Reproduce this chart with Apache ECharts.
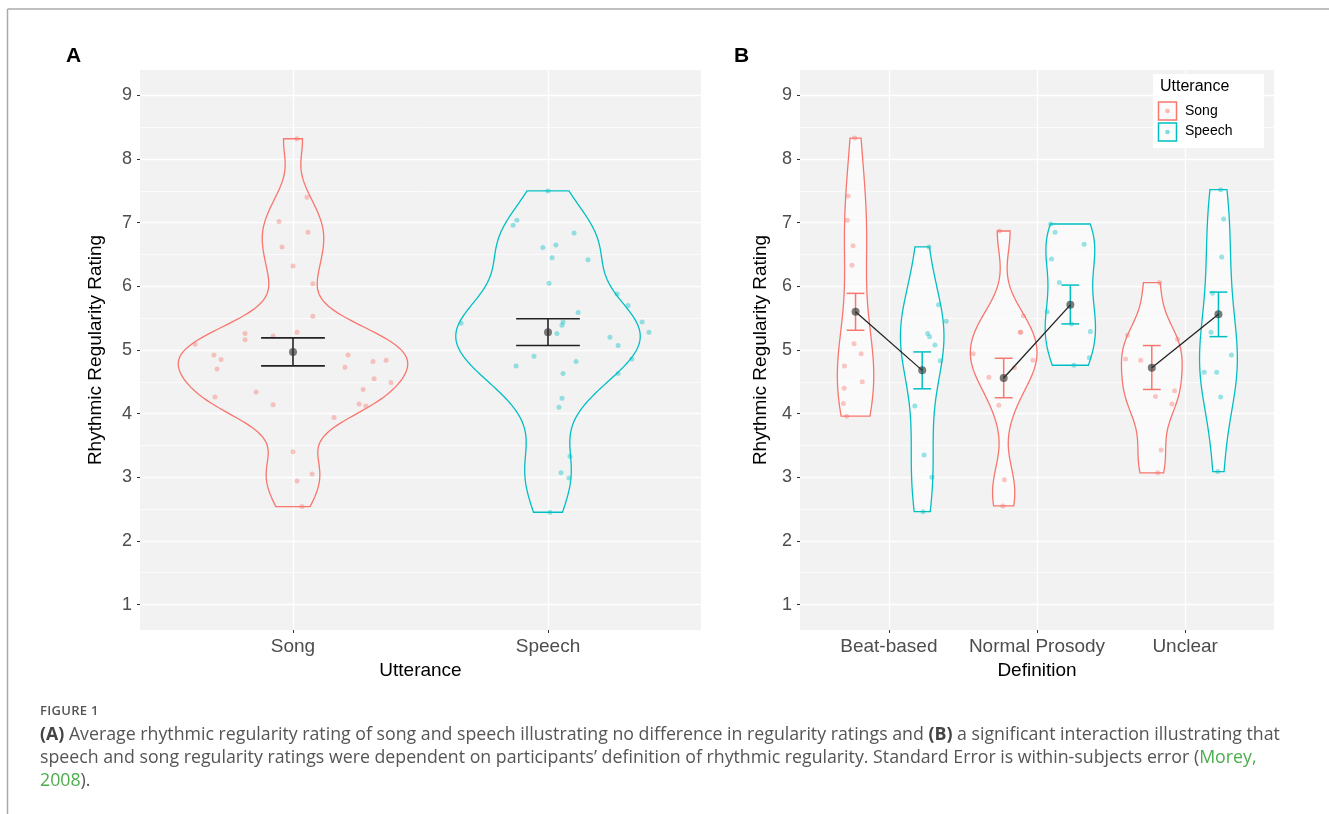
<!DOCTYPE html>
<html>
<head>
<meta charset="utf-8">
<script src="https://cdn.jsdelivr.net/npm/echarts@6/dist/echarts.min.js"></script>
<style>
  body { margin: 0; background: #fff; }
  #main { position: absolute; left: 0; top: 0; width: 1329px; height: 814px; }
  #cap { position: absolute; left: 40px; top: 701px; font-family: 'Open Sans', sans-serif; color: #555; }
  #cap .fig { font-size: 13px; font-weight: 600; line-height: 18px; letter-spacing: 0.3px; margin-bottom: 3px; }
  #cap .txt { font-size: 16px; line-height: 23px; white-space: nowrap; }
  #cap b { color: #444; }
  #cap .ref { color: #4cae4c; }
</style>
</head>
<body>
<div id="main"></div>
<div id="cap">
  <div class="fig">FIGURE 1</div>
  <div class="txt">
    <span id="line1"><b>(A)</b> Average rhythmic regularity rating of song and speech illustrating no difference in regularity ratings and <b>(B)</b> a significant interaction illustrating that</span><br>
    <span>speech and song regularity ratings were dependent on participants’ definition of rhythmic regularity. Standard Error is within-subjects error (<span class="ref">Morey,</span></span><br>
    <span><span class="ref">2008</span>).</span>
  </div>
</div>
<script>
// categories and ticks
var utterances = ['Song', 'Speech'];
var definitions = ['Beat-based', 'Normal Prosody', 'Unclear'];
var yTicks = [1, 2, 3, 4, 5, 6, 7, 8, 9];
var yMinor = [1.5, 2.5, 3.5, 4.5, 5.5, 6.5, 7.5, 8.5];

// panel A: ratings per participant, with the horizontal jitter
var songA = [8.32, 7.40, 7.02, 6.85, 6.62, 6.32, 6.04, 5.53, 5.26, 5.22, 5.28, 5.16, 5.09, 4.92, 4.85, 4.70, 4.92, 4.82, 4.84, 4.73, 4.55, 4.49, 4.38, 4.34, 4.26, 4.14, 4.15, 4.12, 3.94, 3.40, 3.05, 2.94, 2.54];
var songJitA = [0.015, 0.055, -0.055, 0.059, -0.043, 0, 0.078, 0.078, -0.188, -0.078, 0.016, -0.188, -0.384, -0.31, -0.282, -0.298, 0.216, 0.314, 0.365, 0.204, 0.318, 0.384, 0.275, -0.145, -0.306, -0.078, 0.259, 0.286, 0.161, 0, 0.075, 0.016, 0.035];
var speechA = [7.50, 7.04, 6.96, 6.84, 6.61, 6.65, 6.45, 6.42, 6.05, 5.88, 5.70, 5.59, 5.44, 5.42, 5.44, 5.39, 5.28, 5.26, 5.20, 5.07, 4.90, 4.86, 4.75, 4.82, 4.63, 4.63, 4.24, 4.10, 3.33, 3.07, 2.99, 2.45];
var speechJitA = [0, -0.122, -0.137, 0.102, -0.02, 0.031, 0.016, 0.157, 0.004, 0.271, 0.314, 0.118, 0.369, -0.341, 0.059, 0.055, 0.396, 0.035, 0.243, 0.275, -0.055, 0.329, -0.125, 0.11, 0.059, 0.275, 0.055, 0.043, 0.086, 0.051, 0.082, 0.008];
var meanA = [4.97, 5.28];
var loA = [4.75, 5.07];
var hiA = [5.19, 5.49];

// panel B: one list per definition
var songB = [
  [8.33, 7.42, 7.04, 6.64, 6.33, 5.10, 4.94, 4.75, 4.50, 4.40, 4.16, 3.96],
  [6.87, 5.54, 5.28, 5.28, 4.94, 4.84, 4.72, 4.57, 4.13, 2.96, 2.55],
  [6.06, 5.23, 5.17, 4.86, 4.84, 4.36, 4.27, 4.15, 3.43, 3.07]
];
var songJitB = [
  [-0.006, -0.05, -0.055, -0.017, -0.024, -0.01, 0.038, -0.075, 0.045, -0.077, -0.082, -0.06],
  [-0.028, 0.133, 0.112, 0.115, -0.206, 0.198, 0.072, -0.1, -0.033, 0.005, -0.006],
  [0.052, -0.164, 0.174, -0.177, -0.075, 0.154, 0.025, 0.136, 0.063, 0.04]
];
var speechB = [
  [6.62, 5.71, 5.45, 5.26, 5.21, 5.08, 4.83, 4.12, 3.35, 3.00, 2.46],
  [6.98, 6.85, 6.66, 6.43, 6.06, 5.60, 5.41, 5.29, 4.88, 4.76],
  [7.52, 7.06, 6.46, 5.89, 5.28, 4.92, 4.65, 4.65, 4.26, 3.09]
];
var speechJitB = [
  [0.046, 0.11, 0.162, 0.037, 0.05, 0.086, 0.122, -0.05, 0.013, 0.066, 0.006],
  [-0.132, -0.103, 0.093, -0.127, -0.074, -0.156, 0.008, 0.135, 0.128, 0.024],
  [0.015, 0.035, 0.022, -0.04, -0.05, 0.088, -0.096, -0.012, 0.015, -0.005]
];
var songMeanB = [5.60, 4.56, 4.72];
var songLoB = [5.31, 4.25, 4.38];
var songHiB = [5.89, 4.87, 5.07];
var speechMeanB = [4.68, 5.71, 5.56];
var speechLoB = [4.39, 5.41, 5.21];
var speechHiB = [4.97, 6.02, 5.91];

var SONG = '#F8766D', SPEECH = '#00BFC4';
var DODGE = 0.225;

// gaussian kde, bw.nrd0 like ggplot's stat_ydensity, trimmed to the data range
function quant(s, p) {
  var h = (s.length - 1) * p, lo = Math.floor(h);
  return s[lo] + (h - lo) * (s[Math.min(lo + 1, s.length - 1)] - s[lo]);
}
function kde(vals) {
  var s = vals.slice().sort(function (a, b) { return a - b; });
  var n = s.length;
  var m = s.reduce(function (a, b) { return a + b; }, 0) / n;
  var sd = Math.sqrt(s.reduce(function (a, b) { return a + (b - m) * (b - m); }, 0) / (n - 1));
  var iqr = quant(s, 0.75) - quant(s, 0.25);
  var bw = 0.9 * Math.min(sd, iqr / 1.34) * Math.pow(n, -0.2);
  var ys = [], ds = [];
  for (var k = 0; k <= 150; k++) {
    var y = s[0] + (s[n - 1] - s[0]) * k / 150;
    var d = 0;
    s.forEach(function (v) { var z = (y - v) / bw; d += Math.exp(-0.5 * z * z); });
    ys.push(y);
    ds.push(d / (n * bw * Math.sqrt(2 * Math.PI)));
  }
  return { ys: ys, ds: ds };
}

function violinSeries(ax, groups, half) {
  var dens = groups.map(function (g) { return kde(g.vals); });
  var peak = Math.max.apply(null, dens.map(function (d) { return Math.max.apply(null, d.ds); }));
  return {
    type: 'custom', xAxisIndex: ax, yAxisIndex: ax, z: 2, silent: true,
    encode: { x: 0, y: 1 },
    data: groups.map(function (g) { return [g.cx, 5]; }),
    renderItem: function (params, api) {
      var g = groups[params.dataIndex], d = dens[params.dataIndex];
      var right = [], left = [];
      d.ys.forEach(function (y, k) {
        var w = d.ds[k] / peak * half;
        right.push(api.coord([g.cx + w, y]));
        left.push(api.coord([g.cx - w, y]));
      });
      return {
        type: 'polygon',
        shape: { points: right.concat(left.reverse()) },
        style: { fill: g.fill, stroke: g.stroke, lineWidth: 1.3 }
      };
    }
  };
}

function errorBarSeries(ax, items, cap, lw) {
  return {
    type: 'custom', xAxisIndex: ax, yAxisIndex: ax, z: 4, silent: true,
    encode: { x: 0, y: [1, 2] },
    data: items,
    renderItem: function (params, api) {
      var x = api.value(0), lo = api.value(1), hi = api.value(2);
      var a = api.coord([x, hi]), b = api.coord([x, lo]);
      var l = api.coord([x - cap, hi])[0], r = api.coord([x + cap, hi])[0];
      var st = { stroke: api.visual('color'), lineWidth: lw };
      return {
        type: 'group', children: [
          { type: 'line', shape: { x1: a[0], y1: a[1], x2: b[0], y2: b[1] }, style: st },
          { type: 'line', shape: { x1: l, y1: a[1], x2: r, y2: a[1] }, style: st },
          { type: 'line', shape: { x1: l, y1: b[1], x2: r, y2: b[1] }, style: st }
        ]
      };
    }
  };
}

function pointSeries(ax, pts, color, minor) {
  var s = {
    type: 'scatter', xAxisIndex: ax, yAxisIndex: ax, z: 3, silent: true,
    symbolSize: 5, itemStyle: { color: color },
    data: pts
  };
  if (minor) {
    s.markLine = {
      silent: true, symbol: 'none', z: 1, label: { show: false },
      lineStyle: { color: '#fff', width: 0.7, type: 'solid' },
      data: yMinor.map(function (v) { return { yAxis: v }; })
    };
  }
  return s;
}

function xAxisCfg(idx, cats, max, name, gap) {
  var vals = cats.map(function (c, i) { return i; });
  return {
    type: 'value', gridIndex: idx, min: -0.6, max: max,
    name: name, nameLocation: 'middle', nameGap: gap,
    nameTextStyle: { color: '#000', fontSize: 19, fontFamily: 'Liberation Sans' },
    axisLine: { show: false, onZero: false },
    axisTick: { show: true, length: 3, customValues: vals, lineStyle: { color: '#333', width: 1 } },
    axisLabel: {
      customValues: vals, margin: 7, color: '#4d4d4d', fontSize: 19, fontFamily: 'Liberation Sans',
      formatter: function (v) { return cats[Math.round(v)]; }
    },
    splitLine: { show: true, lineStyle: { color: '#fff', width: 1.3 } }
  };
}

function yAxisCfg(idx, gap) {
  return {
    type: 'value', gridIndex: idx, min: 0.6, max: 9.4,
    name: 'Rhythmic Regularity Rating', nameLocation: 'middle', nameGap: gap,
    nameTextStyle: { color: '#000', fontSize: 19, fontFamily: 'Liberation Sans' },
    axisLine: { show: false, onZero: false },
    axisTick: { show: true, length: 3, customValues: yTicks, lineStyle: { color: '#333', width: 1 } },
    axisLabel: { customValues: yTicks, margin: 8, color: '#4d4d4d', fontSize: 18, fontFamily: 'Liberation Sans' },
    splitLine: { show: true, lineStyle: { color: '#fff', width: 1.3 } }
  };
}

var violinsA = [
  { cx: 0, vals: songA, stroke: SONG, fill: 'rgba(255,255,255,0)' },
  { cx: 1, vals: speechA, stroke: SPEECH, fill: 'rgba(255,255,255,0)' }
];
var violinsB = [];
definitions.forEach(function (d, i) {
  violinsB.push({ cx: i - DODGE, vals: songB[i], stroke: SONG, fill: 'rgba(255,255,255,0.6)' });
  violinsB.push({ cx: i + DODGE, vals: speechB[i], stroke: SPEECH, fill: 'rgba(255,255,255,0.6)' });
});

function flatPts(vals, jit, shift) {
  var out = [];
  vals.forEach(function (grp, i) {
    grp.forEach(function (v, k) { out.push([i + shift + jit[i][k], v]); });
  });
  return out;
}

var series = [
  violinSeries(0, violinsA, 0.45),
  pointSeries(0, songA.map(function (v, i) { return [songJitA[i], v]; }), 'rgba(248,118,109,0.5)', true),
  pointSeries(0, speechA.map(function (v, i) { return [1 + speechJitA[i], v]; }), 'rgba(0,191,196,0.5)'),
  errorBarSeries(0, meanA.map(function (m, i) { return { value: [i, loA[i], hiA[i]], itemStyle: { color: '#222' } }; }), 0.125, 1.6),
  {
    type: 'scatter', xAxisIndex: 0, yAxisIndex: 0, z: 6, silent: true, symbolSize: 8,
    itemStyle: { color: 'rgba(50,50,50,0.8)' },
    data: meanA.map(function (m, i) { return [i, m]; })
  },
  violinSeries(1, violinsB, 0.225),
  pointSeries(1, flatPts(songB, songJitB, -DODGE), 'rgba(248,118,109,0.5)', true),
  pointSeries(1, flatPts(speechB, speechJitB, DODGE), 'rgba(0,191,196,0.5)'),
  errorBarSeries(1, definitions.map(function (d, i) {
    return { value: [i - DODGE, songLoB[i], songHiB[i]], itemStyle: { color: SONG } };
  }).concat(definitions.map(function (d, i) {
    return { value: [i + DODGE, speechLoB[i], speechHiB[i]], itemStyle: { color: SPEECH } };
  })), 0.06, 1.5)
];
definitions.forEach(function (d, i) {
  series.push({
    type: 'line', xAxisIndex: 1, yAxisIndex: 1, z: 5, silent: true, symbol: 'none',
    lineStyle: { color: '#222', width: 1.3 },
    data: [[i - DODGE, songMeanB[i]], [i + DODGE, speechMeanB[i]]]
  });
});
series.push({
  type: 'scatter', xAxisIndex: 1, yAxisIndex: 1, z: 6, silent: true, symbolSize: 8,
  itemStyle: { color: 'rgba(50,50,50,0.8)' },
  data: songMeanB.map(function (m, i) { return [i - DODGE, m]; })
    .concat(speechMeanB.map(function (m, i) { return [i + DODGE, m]; }))
});

var txt = function (t, x, y, size, opts) {
  opts = opts || {};
  return {
    type: 'text', x: x, y: y, silent: true, z: 10,
    style: {
      text: t, fill: opts.fill || '#000',
      font: (opts.bold ? 'bold ' : '') + size + 'px "Liberation Sans"',
      align: opts.align || 'left', verticalAlign: 'middle',
      textAlign: opts.align || 'left', textVerticalAlign: 'middle'
    }
  };
};

var graphic = [
  { type: 'line', silent: true, shape: { x1: 7.5, y1: 9, x2: 1329, y2: 9 }, style: { stroke: '#aaa', lineWidth: 1.5 } },
  { type: 'line', silent: true, shape: { x1: 7.5, y1: 9, x2: 7.5, y2: 814 }, style: { stroke: '#aaa', lineWidth: 1.5 } },
  txt('A', 66, 56, 21, { bold: true }),
  txt('B', 734, 56, 21, { bold: true }),
  { type: 'rect', silent: true, z: 9, shape: { x: 1153, y: 74, width: 111, height: 74 }, style: { fill: '#fff' } },
  txt('Utterance', 1160, 87, 16),
  { type: 'rect', silent: true, z: 10, shape: { x: 1158.5, y: 102, width: 18, height: 18 }, style: { fill: '#fbfbfb', stroke: SONG, lineWidth: 1.5 } },
  { type: 'circle', silent: true, z: 11, shape: { cx: 1167.5, cy: 111, r: 2.3 }, style: { fill: 'rgba(248,118,109,0.5)' } },
  { type: 'rect', silent: true, z: 10, shape: { x: 1158.5, y: 123, width: 18, height: 18 }, style: { fill: '#fbfbfb', stroke: SPEECH, lineWidth: 1.5 } },
  { type: 'circle', silent: true, z: 11, shape: { cx: 1167.5, cy: 132, r: 2.3 }, style: { fill: 'rgba(0,191,196,0.5)' } },
  txt('Song', 1185, 111, 14),
  txt('Speech', 1185, 131, 14)
];

var chart = echarts.init(document.getElementById('main'), null, { renderer: 'canvas' });
chart.setOption({
  animation: false,
  backgroundColor: 'transparent',
  grid: [
    { left: 140, top: 70, width: 561, height: 560, show: true, backgroundColor: '#f2f2f2', borderWidth: 0 },
    { left: 800, top: 70, width: 474, height: 560, show: true, backgroundColor: '#f2f2f2', borderWidth: 0 }
  ],
  xAxis: [xAxisCfg(0, utterances, 1.6, 'Utterance', 30), xAxisCfg(1, definitions, 2.6, 'Definition', 30)],
  yAxis: [yAxisCfg(0, 35), yAxisCfg(1, 30)],
  graphic: graphic,
  series: series
});

// fit the caption's first line to the width it has in the figure
(function () {
  var l1 = document.getElementById('line1');
  var w = l1.getBoundingClientRect().width;
  var box = document.querySelector('#cap .txt');
  box.style.fontSize = (16 * 1240 / w).toFixed(2) + 'px';
})();
</script>
</body>
</html>
